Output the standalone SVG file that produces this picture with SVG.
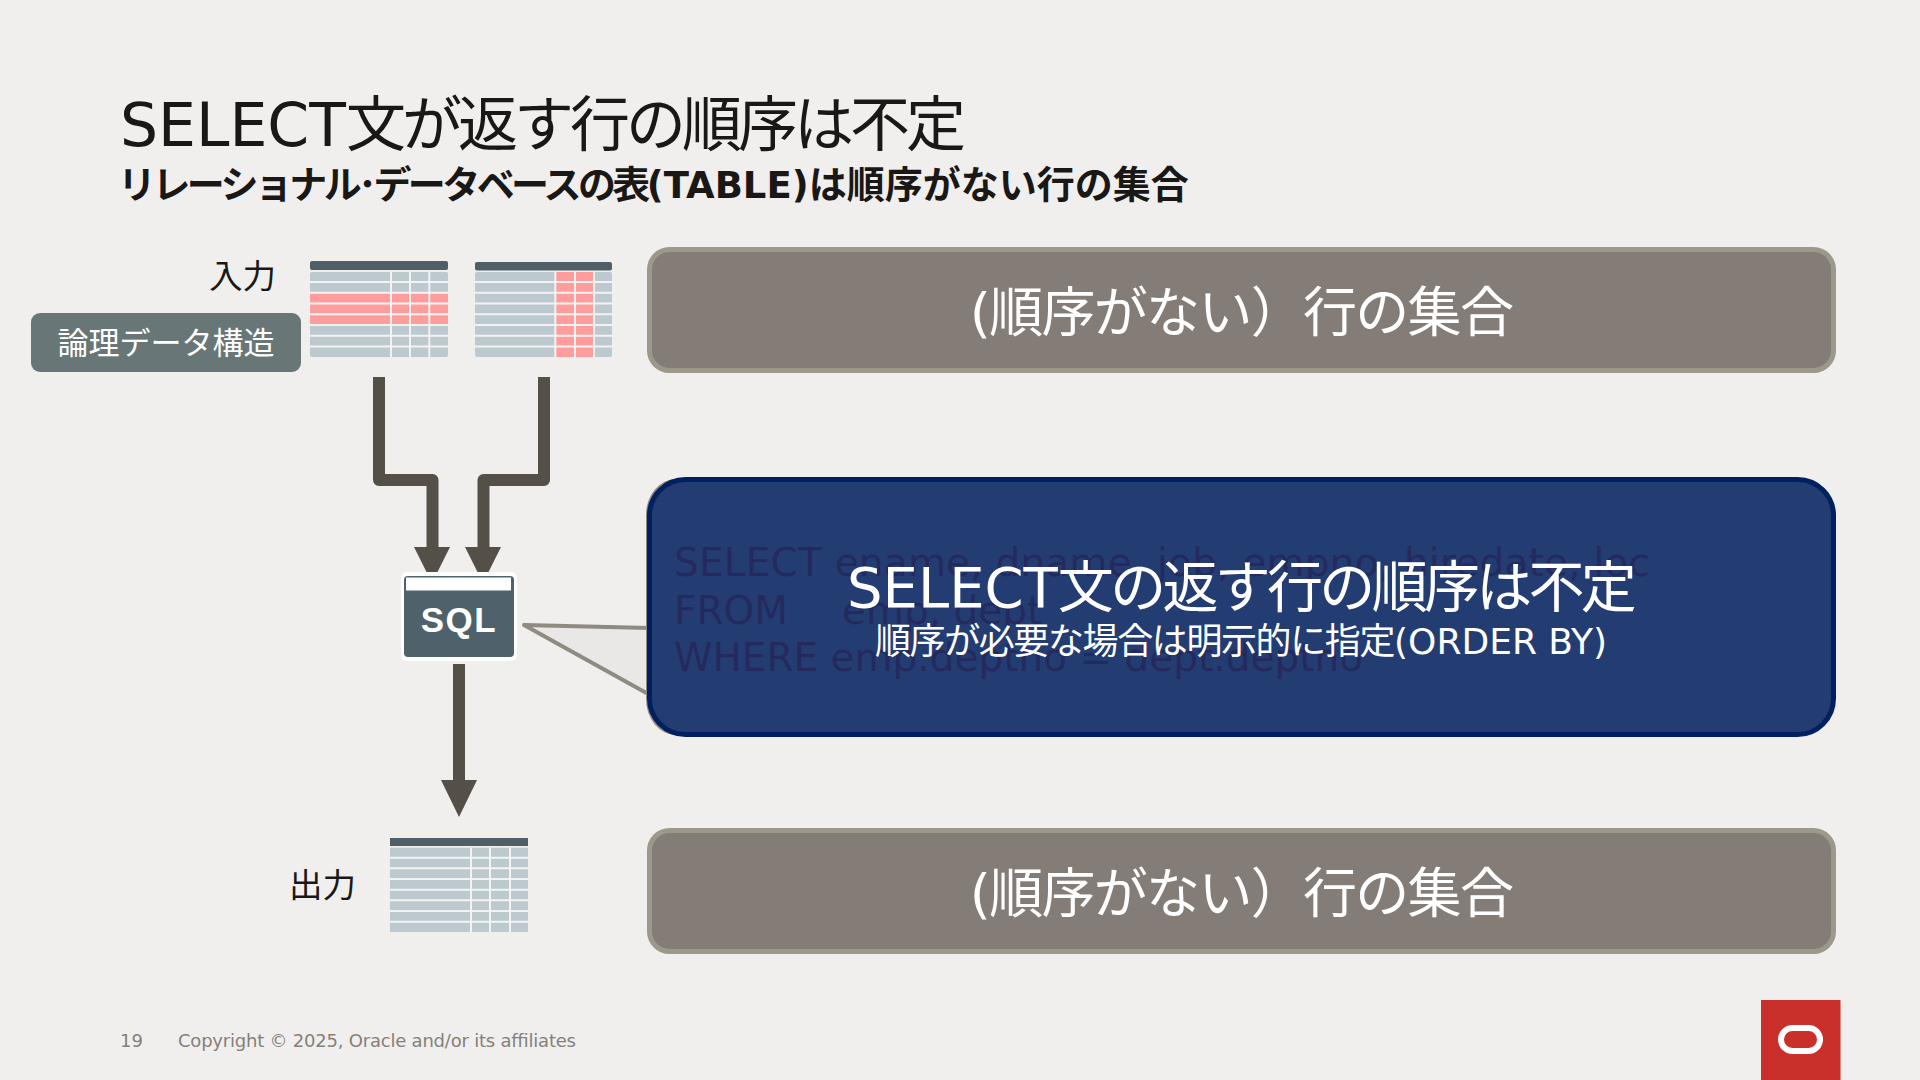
<svg xmlns="http://www.w3.org/2000/svg" width="1920" height="1080" viewBox="0 0 1920 1080">
<style>
text{font-family:"DejaVu Sans","Noto Sans CJK JP",sans-serif}
.gb{fill:#847c76;stroke:#9c988a;stroke-width:5}
.gt{fill:#fff;font-size:54px;letter-spacing:-1.7px;text-anchor:middle}
.lb{fill:#1a1816;font-size:33.500px}
.h{fill:#4f5f65}
.r{fill:#bcc9cf}
.p{fill:#ff9c9c}
.w{fill:none;stroke:#f3f3f3;stroke-width:2}
.ln{fill:none;stroke:#544f47;stroke-width:12;stroke-linejoin:round}
.ah{fill:#544f47}
.sq{fill:#242a5e;font-size:39px}
.t1{letter-spacing:-4px}
.t2a{font-size:38px;letter-spacing:-3.600px}
.t2b{font-size:38px;letter-spacing:0}
.t3{letter-spacing:-3.700px}
.t4{letter-spacing:-1.400px}
</style>
<rect width="1920" height="1080" fill="#f1efed"/>
<g id="title">
<text x="120" y="146" font-size="60" fill="#1a1816">SELECT<tspan class="t1">文が返す行の順序は不定</tspan></text>
<text x="118" y="198" font-size="37" font-weight="700" fill="#1a1816"><tspan class="t2a">リレーショナル･データベースの表</tspan>(TABLE)<tspan class="t2b">は順序がない行の集合</tspan></text>
</g>
<g id="connectors">
<path class="ln" d="M379 377V480H432.5V550"/>
<path class="ln" d="M544 377V480H483.5V550"/>
<path class="ln" d="M459 664V785"/>
<path class="ah" d="M414 547H450L432 583Z"/>
<path class="ah" d="M465 547H501L483 583Z"/>
<path class="ah" d="M441 780H477L459 817Z"/>
</g>
<g id="label-input"><text class="lb" x="209" y="288">入力</text></g>
<g id="label-output"><text class="lb" x="289" y="897">出力</text></g>
<g id="logical">
<rect x="31" y="313" width="270" height="59" rx="9" fill="#687677"/>
<text x="166" y="354" font-size="31" fill="#fff" text-anchor="middle">論理データ構造</text>
</g>
<g id="table-in-1">
<rect class="h" x="310" y="261" width="138" height="9" rx="2"/>
<rect class="r" x="310" y="272" width="138" height="85" rx="2"/>
<rect class="p" x="310" y="293.500" width="138" height="32.300"/>
<path class="w" d="M310 282H448M310 292.700H448M310 303.500H448M310 314.200H448M310 325H448M310 335.700H448M310 346.500H448M391 272V357M410 272V357M429.300 272V357"/>
</g>
<g id="table-in-2">
<rect class="h" x="475" y="262" width="137" height="8.600" rx="2"/>
<rect class="r" x="475" y="272" width="137" height="85" rx="2"/>
<rect class="p" x="555.300" y="272" width="38.700" height="85"/>
<path class="w" d="M475 282H612M475 292.700H612M475 303.500H612M475 314.200H612M475 325H612M475 335.700H612M475 346.500H612M555.300 272V357M575 272V357M594 272V357"/>
</g>
<g id="table-out">
<rect class="h" x="390" y="838" width="138" height="8"/>
<rect class="r" x="390" y="847.700" width="138" height="84.300"/>
<path class="w" d="M390 857.700H528M390 868.300H528M390 879H528M390 889.700H528M390 900.300H528M390 911H528M390 921.700H528M471 847.700V932M490 847.700V932M510 847.700V932"/>
</g>
<g id="sql">
<rect x="401" y="572" width="116" height="89" rx="6" fill="#fff"/>
<rect x="404" y="576" width="110" height="81" rx="4" fill="#4f626c"/>
<rect x="406" y="577.500" width="105" height="13" fill="#fff"/>
<text x="459" y="632" font-size="35" font-weight="700" fill="#fff" text-anchor="middle" letter-spacing="1.500" style="font-family:'Liberation Sans',sans-serif">SQL</text>
</g>
<g id="box-top">
<rect class="gb" x="649.500" y="249.500" width="1184" height="121" rx="20"/>
<text class="gt" x="1241" y="332">(順序がない）行の集合</text>
</g>
<g id="box-bottom">
<rect class="gb" x="649.500" y="830.500" width="1184" height="121" rx="20"/>
<text class="gt" x="1241" y="913">(順序がない）行の集合</text>
</g>
<g id="callout">
<path d="M650 628L524 625L650 695Z" fill="#e9e8e7" stroke="#8f8b80" stroke-width="4" stroke-linejoin="round"/>
<rect x="646" y="479" width="60" height="256" rx="36" fill="#8f8b80"/>
<rect x="649.500" y="479.500" width="1184" height="255" rx="36" fill="#233d73" stroke="#00205f" stroke-width="5"/>
<text class="sq" x="674" y="576" textLength="976">SELECT ename, dname, job, empno, hiredate, loc</text>
<text class="sq" x="674" y="624">FROM</text>
<text class="sq" x="842" y="624">emp, dept</text>
<text class="sq" x="674" y="671" textLength="689">WHERE emp.deptno = dept.deptno</text>
<text x="847" y="607" font-size="56" fill="#fff">SELECT<tspan class="t3">文の返す行の順序は不定</tspan></text>
<text x="875" y="654" font-size="36" fill="#fff"><tspan class="t4">順序が必要な場合は明示的に指定</tspan>(ORDER BY)</text>
</g>
<g id="footer">
<text x="120" y="1047" font-size="18" fill="#85807a">19</text>
<text x="178" y="1047" font-size="18" fill="#85807a" textLength="398">Copyright © 2025, Oracle and/or its affiliates</text>
</g>
<g id="logo">
<rect x="1761" y="1000" width="79.500" height="80" fill="#c9302c"/>
<rect x="1781" y="1028" width="39" height="23" rx="11.500" fill="none" stroke="#fff" stroke-width="6"/>
</g>
</svg>
